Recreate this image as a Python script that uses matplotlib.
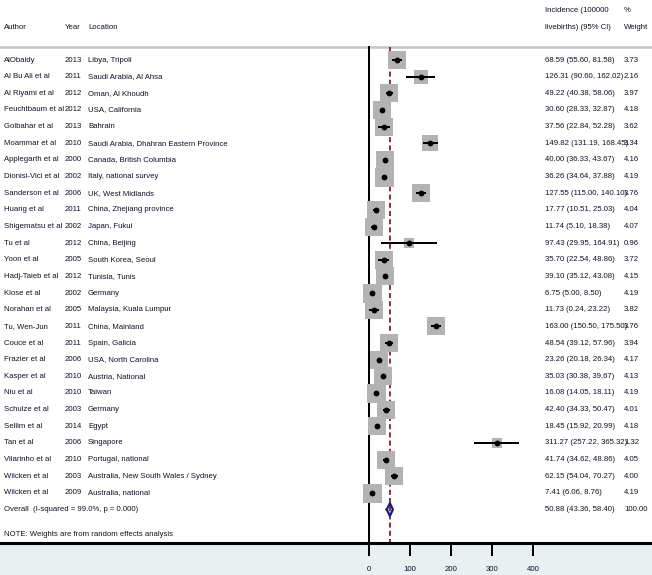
import matplotlib
matplotlib.use("Agg")
import matplotlib.pyplot as plt
import numpy as np

plt.rcParams["font.family"] = ["Liberation Sans", "DejaVu Sans"]

# study data
authors = ["AlObaidy", "Al Bu Ali et al", "Al Riyami et al", "Feuchtbaum et al",
           "Golbahar et al", "Moammar et al", "Applegarth et al", "Dionisi-Vici et al",
           "Sanderson et al", "Huang et al", "Shigematsu et al", "Tu et al",
           "Yoon et al", "Hadj-Taieb et al", "Klose et al", "Norahan et al",
           "Tu, Wen-Jun", "Couce et al", "Frazier et al", "Kasper et al",
           "Niu et al", "Schulze et al", "Sellim et al", "Tan et al",
           "Vilarinho et al", "Wilcken et al", "Wilcken et al"]
years = [2013, 2011, 2012, 2012, 2013, 2010, 2000, 2002, 2006, 2011, 2002, 2012,
         2005, 2012, 2002, 2005, 2011, 2011, 2006, 2010, 2010, 2003, 2014, 2006,
         2010, 2003, 2009]
locations = ["Libya, Tripoli", "Saudi Arabia, Al Ahsa", "Oman, Al Khoudh", "USA, California",
             "Bahrain", "Saudi Arabia, Dhahran Eastern Province", "Canada, British Columbia",
             "Italy, national survey", "UK, West Midlands", "China, Zhejiang province",
             "Japan, Fukui", "China, Beijing", "South Korea, Seoul", "Tunisia, Tunis",
             "Germany", "Malaysia, Kuala Lumpur", "China, Mainland", "Spain, Galicia",
             "USA, North Carolina", "Austria, National", "Taiwan", "Germany", "Egypt",
             "Singapore", "Portugal, national", "Australia, New South Wales / Sydney",
             "Australia, national"]
est = [68.59, 126.31, 49.22, 30.60, 37.56, 149.82, 40.00, 36.26, 127.55, 17.77, 11.74,
       97.43, 35.70, 39.10, 6.75, 11.73, 163.00, 48.54, 23.26, 35.03, 16.08, 42.40,
       18.45, 311.27, 41.74, 62.15, 7.41]
lo = [55.60, 90.60, 40.38, 28.33, 22.84, 131.19, 36.33, 34.64, 115.00, 10.51, 5.10,
      29.95, 22.54, 35.12, 5.00, 0.24, 150.50, 39.12, 20.18, 30.38, 14.05, 34.33,
      15.92, 257.22, 34.62, 54.04, 6.06]
hi = [81.58, 162.02, 58.06, 32.87, 52.28, 168.45, 43.67, 37.88, 140.10, 25.03, 18.38,
      164.91, 48.86, 43.08, 8.50, 23.22, 175.50, 57.96, 26.34, 39.67, 18.11, 50.47,
      20.99, 365.32, 48.86, 70.27, 8.76]
weights = [3.73, 2.16, 3.97, 4.18, 3.62, 3.34, 4.16, 4.19, 3.76, 4.04, 4.07, 0.96,
           3.72, 4.15, 4.19, 3.82, 3.76, 3.94, 4.17, 4.13, 4.19, 4.01, 4.18, 1.32,
           4.05, 4.00, 4.19]
overall = (50.88, 43.36, 58.40)
overall_label = "Overall  (I-squared = 99.0%, p = 0.000)"
xticks = [0, 100, 200, 300, 400]

txt_col = "#10102a"
fs = 5.6

fig = plt.figure(figsize=(6.52, 5.75), dpi=100)
fig.set_facecolor("#e8f0f2")
ax = fig.add_axes([0, 32 / 575, 1, 543 / 575])
ax.set_facecolor("white")

n = len(authors)
row_px = 16.65
y_top = -60 / row_px
y_bot = 483 / row_px
ax.set_xlim(-369 / 0.41, (652 - 369) / 0.41)
ax.set_ylim(y_bot, y_top)

tr = ax.get_yaxis_transform()
line_y = -13 / row_px

# column positions (axes fraction)
c_auth, c_year, c_loc, c_ci, c_w = 0.006, 0.0997, 0.135, 0.836, 0.957

def put(x, y, s):
    ax.text(x, y, s, transform=tr, fontsize=fs, color=txt_col, va="center")

# header
put(c_auth, -1.98, "Author")
put(c_year, -1.98, "Year")
put(c_loc, -1.98, "Location")
put(c_ci, -3.0, "Incidence (100000")
put(c_ci, -1.98, "livebirths) (95% CI)")
put(c_w, -3.0, "%")
put(c_w, -1.98, "Weight")
ax.axhline(line_y, color="#c4c4c4", lw=1.8, zorder=1)

# reference lines
ax.plot([0, 0], [line_y, y_bot], color="black", lw=1.44, zorder=1)
ax.plot([overall[0], overall[0]], [line_y, y_bot], color="#8b3535", lw=1.44,
        dashes=(2.5, 1.6), zorder=1.5)

# studies
for i in range(n):
    side = 19 * np.sqrt(weights[i] / 4.19) * 0.72
    ax.plot(est[i], i, marker="s", ms=side, mfc="#b3b3b3", mew=0, ls="none", zorder=2)
    ax.plot([lo[i], hi[i]], [i, i], color="black", lw=1.44, zorder=3, solid_capstyle="butt")
    ax.plot(est[i], i, marker="o", ms=4.2, mfc="black", mec="black", mew=0, ls="none", zorder=4)
    put(c_auth, i, authors[i])
    put(c_year, i, str(years[i]))
    put(c_loc, i, locations[i])
    put(c_w, i, f"{weights[i]:.2f}")
    ax.text(c_ci, i, f"{est[i]:.2f} ({lo[i]:.2f}, {hi[i]:.2f})", transform=tr,
            fontsize=fs, color=txt_col, va="center", zorder=6)

# overall diamond
yo = n
h = 0.38
ax.plot([overall[1], overall[0], overall[2], overall[0], overall[1]],
        [yo, yo - h, yo, yo + h, yo], color="#1c1c78", lw=1.6, zorder=5)
put(c_auth, yo, overall_label)
put(c_ci, yo, f"{overall[0]:.2f} ({overall[1]:.2f}, {overall[2]:.2f})")
put(c_w, yo, "100.00")
put(c_auth, 28.5, "NOTE: Weights are from random effects analysis")

# axis
for s in ["top", "left", "right"]:
    ax.spines[s].set_visible(False)
ax.spines["bottom"].set_linewidth(2.2)
ax.set_yticks([])
ax.set_xticks(xticks)
ax.tick_params(axis="x", direction="out", length=9.4, width=1.44, pad=7,
               labelsize=fs, labelcolor=txt_col)

fig.savefig("out.png", dpi=100, facecolor=fig.get_facecolor())
